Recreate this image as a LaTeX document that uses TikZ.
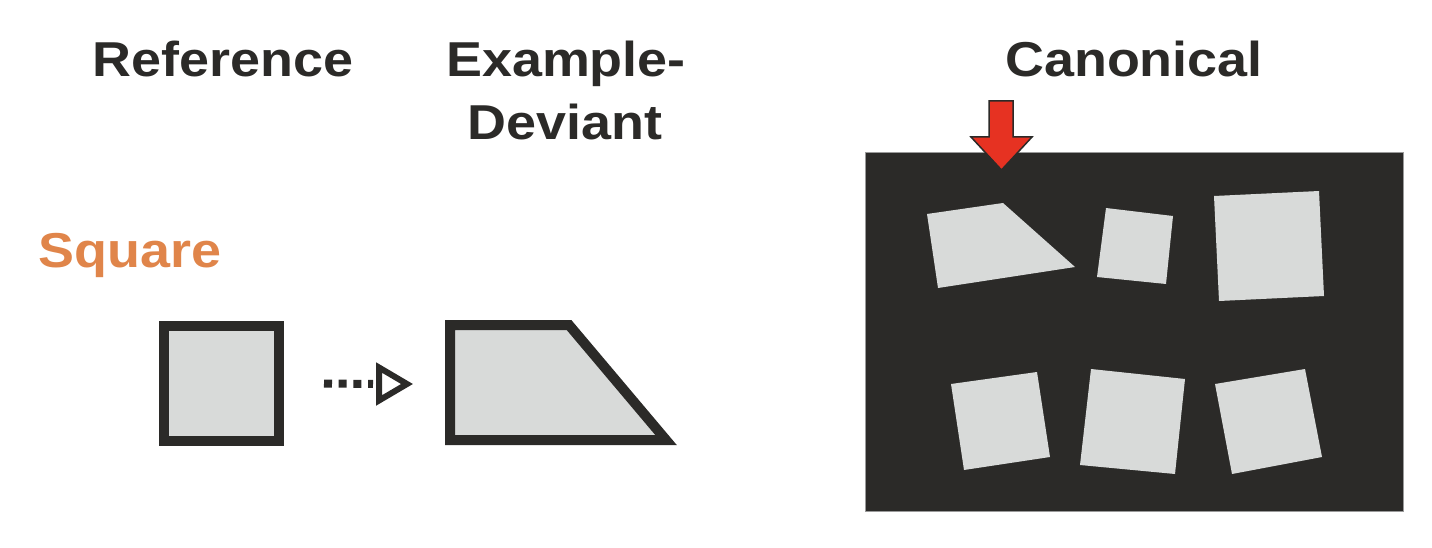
\documentclass[tikz,border=0pt]{standalone}
\usepackage{fontspec}
\setmainfont{Liberation Sans}
\usetikzlibrary{calc}
\definecolor{ink}{HTML}{2B2A28}
\definecolor{pale}{HTML}{D8DAD9}
\definecolor{orng}{HTML}{E0854A}
\definecolor{redfill}{HTML}{E63222}
\definecolor{edgegray}{HTML}{9A9A9A}
\tikzset{
  title/.style={inner sep=0pt, anchor=base, text=ink, font=\fontsize{49}{58}\selectfont\bfseries},
  outlined/.style={draw=ink, fill=pale, line width=10pt, miter limit=10},
  paleshape/.style={fill=pale},
}
\begin{document}
\begin{tikzpicture}[x=1pt, y=-1pt]
\useasboundingbox (0,0) rectangle (1432,548);
% titles
\node[title] (tRef) at (223,77) {\scalebox{1.1}[1]{Reference}};
\node[title] (tExA) at (566,77) {\scalebox{1.1}[1]{Example-}};
\node[title] (tExB) at (565,140) {\scalebox{1.1}[1]{Deviant}};
\node[title] (tCan) at (1134,77) {\scalebox{1.1}[1]{Canonical}};
\node[title, text=orng] (tSq) at (130,267) {\scalebox{1.1}[1]{Square}};
% reference square
\node[outlined, rectangle, minimum width=115pt, minimum height=115pt, inner sep=0pt] (sq) at (221.5,383.5) {};
% example-deviant trapezoid
\draw[outlined] (450,325) -- (569,325) -- (666,440) -- (450,440) -- cycle;
\coordinate (trW) at (450,384);
% dotted arrow
\coordinate (aS) at ($(sq.east)+(40,0)$);
\coordinate (aB) at ($(trW)+(-71,0)$);
\coordinate (aT) at ($(trW)+(-43,0)$);
\draw[ink, line width=8pt, dash pattern=on 8pt off 6.7pt] (aS) -- ($(aB)+(-6,0)$);
\draw[ink, line width=6pt, fill=white, miter limit=10] ($(aB)+(0,-16.5)$) -- (aT) -- ($(aB)+(0,16.5)$) -- cycle;
% canonical panel
\draw[fill=ink, draw=edgegray, line width=1pt] (865,153) rectangle (1403,511);
\fill[paleshape] (927,214) -- (1003,203) -- (1075,267) -- (938,288) -- cycle;
\fill[paleshape] (1106,208) -- (1173,216) -- (1166,284) -- (1097,277) -- cycle;
\fill[paleshape] (1214,196) -- (1319,191) -- (1324,296) -- (1219,301) -- cycle;
\fill[paleshape] (951,384) -- (1037,372) -- (1050,457) -- (964,470) -- cycle;
\fill[paleshape] (1091,369) -- (1185,379) -- (1175,474) -- (1080,465) -- cycle;
\fill[paleshape] (1215,384) -- (1305,369) -- (1322,457) -- (1232,474) -- cycle;
% red arrow
\draw[fill=redfill, draw=ink, line width=1.5pt, line join=miter]
  (989,101) -- (1013,101) -- (1013,137) -- (1032,137) -- (1001.5,170)
  -- (971,137) -- (989,137) -- cycle;
\end{tikzpicture}
\end{document}
